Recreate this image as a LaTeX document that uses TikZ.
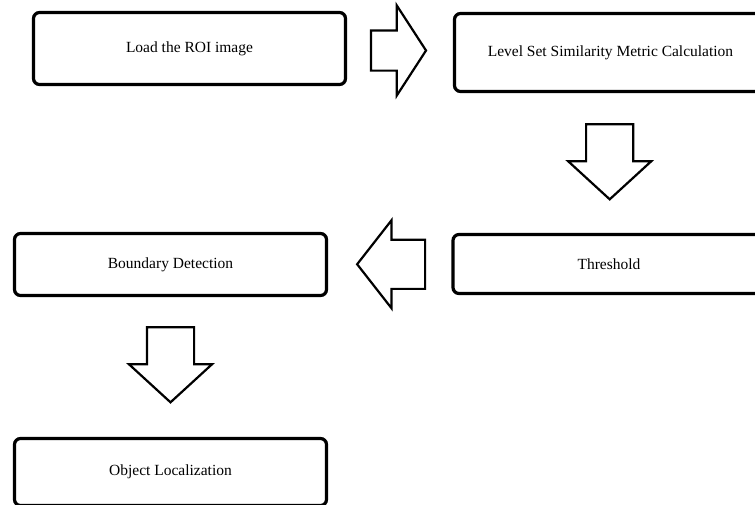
\documentclass[tikz,border=0pt]{standalone}
\usepackage{fontspec}
\setmainfont{Liberation Serif}
\usetikzlibrary{shapes.arrows}

\tikzstyle{box} = [draw, rounded corners = 6pt, line width = 3.2pt, minimum width = 312pt, inner sep = 0pt, font = \fontsize{15.5}{18}\selectfont]
\tikzstyle{bigarrow} = [draw, single arrow, line width = 2.2pt, inner xsep = 0pt, inner ysep = 22.5pt, minimum height = 75pt, single arrow head extend = 18pt, single arrow tip angle = 95]

\begin{document}
\begin{tikzpicture}[x = 1pt, y = -1pt]
        \useasboundingbox (0, 0) rectangle (755, 504);
        \clip (0, 0) rectangle (755, 504);

        \node[box, minimum height = 72pt] (load) at (189.5, 48.5) {Load the ROI image};
        \node[box, minimum height = 78pt] (level) at (610.5, 52.5) {Level Set Similarity Metric Calculation};
        \node[box, minimum height = 59pt] (thresh) at (609, 264) {Threshold};
        \node[box, minimum height = 62pt] (bound) at (170.5, 264.5) {Boundary Detection};
        \node[box, minimum height = 67pt] (object) at (170.5, 472) {Object Localization};

        \path (load) -- (level) node [midway, xshift = -8pt, bigarrow, inner ysep = 19pt, minimum height = 55pt,
            single arrow head extend = 25pt, single arrow tip angle = 114] (a1) {};
        \path (level) -- (thresh) node [midway, yshift = 12pt, bigarrow, rotate = -90] (a2) {};
        \path (thresh) -- (bound) node [midway, xshift = 11pt, bigarrow, rotate = 180, inner ysep = 23.5pt, minimum height = 68pt,
            single arrow head extend = 19.5pt, single arrow tip angle = 104] (a3) {};
        \path (bound) -- (object) node [midway, yshift = 13pt, bigarrow, rotate = -90] (a4) {};
    \end{tikzpicture}
\end{document}
